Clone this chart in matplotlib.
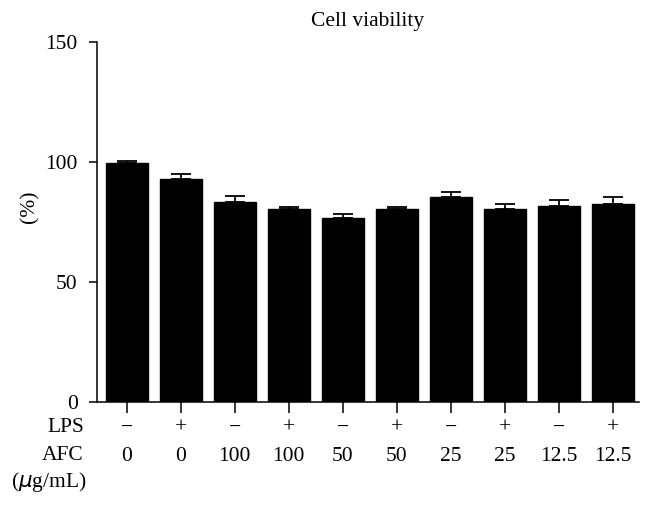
import numpy as np
import matplotlib
matplotlib.use("Agg")
import matplotlib.pyplot as plt

# values
lps = ["\u2212", "+", "\u2212", "+", "\u2212", "+", "\u2212", "+", "\u2212", "+"]
afc = ["0", "0", "100", "100", "50", "50", "25", "25", "12.5", "12.5"]
viability = [99.6, 92.9, 83.2, 80.1, 76.7, 80.1, 85.1, 80.4, 81.4, 82.5]
errors = [0.8, 1.8, 2.3, 1.0, 1.6, 1.2, 2.4, 1.8, 2.8, 2.9]

plt.rcParams['font.family'] = ['Liberation Serif', 'DejaVu Serif']
FS = 15.5

fig = plt.figure(figsize=(6.54, 5.05), dpi=100)
ax = fig.add_axes([97 / 654, 1 - 401.7 / 505, 542 / 654, 360 / 505])

x = np.arange(len(viability))
ax.bar(x, viability, width=0.77, color="black", edgecolor="black")
ax.errorbar(x, viability, yerr=[np.zeros(len(errors)), errors], fmt="none",
            ecolor="black", elinewidth=1.3, capsize=7.5, capthick=1.3)

ax.set_xlim(-0.55, 9.48)
ax.set_ylim(0, 150)
ax.set_yticks([0, 50, 100, 150])
ax.set_xticks(x)
ax.set_xticklabels([])
ax.tick_params(axis="y", direction="out", length=6, width=1.1, labelsize=FS, pad=8)
ax.tick_params(axis="x", direction="out", length=8, width=1.1)
for side in ["top", "right"]:
    ax.spines[side].set_visible(False)
for side in ["left", "bottom"]:
    ax.spines[side].set_linewidth(1.1)

ax.set_title("Cell viability", fontsize=FS, pad=11)
fig.text(30 / 654, 1 - 207 / 505, "(%)", rotation=90, fontsize=FS,
         ha="center", va="center")

# rows of group labels under the axis
trans = ax.get_xaxis_transform()
for i in range(len(x)):
    ax.text(x[i], -0.074, lps[i], transform=trans, ha="center", va="center",
            fontsize=FS)
    ax.text(x[i], -0.152, afc[i], transform=trans, ha="center", va="center",
            fontsize=FS)
fig.text(84 / 654, 1 - 428 / 505, "LPS", ha="right", va="center", fontsize=FS)
fig.text(84 / 654, 1 - 456 / 505, "AFC", ha="right", va="center", fontsize=FS)
fig.text(87 / 654, 1 - 482 / 505, "($\\mu$g/mL)", ha="right", va="center",
         fontsize=FS)

fig.savefig("out.png", dpi=100)
